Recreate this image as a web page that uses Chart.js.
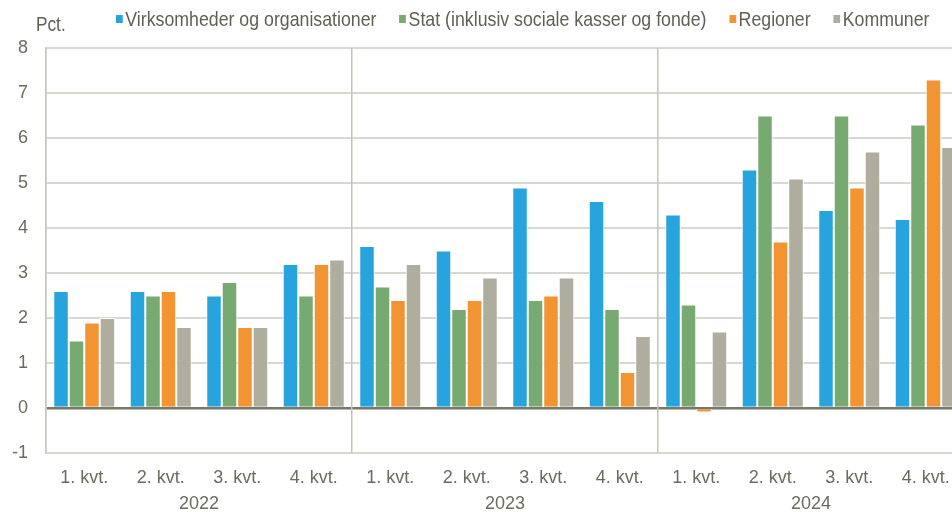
<!DOCTYPE html>
<html>
<head>
<meta charset="utf-8">
<script src="https://cdn.jsdelivr.net/npm/chart.js@4/dist/chart.umd.min.js"></script>
<style>
  body { margin: 0; background: #fff; overflow: hidden; }
  #wrap { position: relative; width: 952px; height: 512px; overflow: hidden; }
  #chart { position: absolute; left: 0; top: 0; }
  .txt { font-family: "Liberation Sans", Arial, sans-serif; font-size: 21px; color: #5f5f52; white-space: nowrap; transform: scaleX(0.845); transform-origin: left top; }
  #unit { position: absolute; left: 36px; top: 12px; transform: scaleX(0.82); }
  #legend { position: absolute; left: 116px; top: 7px; display: flex; align-items: center; }
  #legend .item { display: flex; align-items: center; margin-right: 27px; }
  #legend .box { width: 8px; height: 8px; margin-right: 3px; }
</style>
</head>
<body>
<div id="wrap">
  <canvas id="chart" width="968" height="512"></canvas>
  <div id="unit" class="txt">Pct.</div>
  <div id="legend" class="txt"></div>
</div>
<script>
const quarters = ["1. kvt.", "2. kvt.", "3. kvt.", "4. kvt.",
                  "1. kvt.", "2. kvt.", "3. kvt.", "4. kvt.",
                  "1. kvt.", "2. kvt.", "3. kvt.", "4. kvt."];
const years = ["2022", "2023", "2024"];

const virksomheder = [2.6, 2.6, 2.5, 3.2, 3.6, 3.5, 4.9, 4.6, 4.3, 5.3, 4.4, 4.2];
const stat         = [1.5, 2.5, 2.8, 2.5, 2.7, 2.2, 2.4, 2.2, 2.3, 6.5, 6.5, 6.3];
const regioner     = [1.9, 2.6, 1.8, 3.2, 2.4, 2.4, 2.5, 0.8, -0.1, 3.7, 4.9, 7.3];
const kommuner     = [2.0, 1.8, 1.8, 3.3, 3.2, 2.9, 2.9, 1.6, 1.7, 5.1, 5.7, 5.8];

const font = { family: '"Liberation Sans", Arial, sans-serif', size: 18 };
const textColor = "#6b6b5e";

function ds(label, data, color) {
  return {
    label: label,
    data: data,
    backgroundColor: color,
    borderColor: "#ffffff",
    borderWidth: 1,
    categoryPercentage: 0.81,
    barPercentage: 1.0
  };
}

const chart = new Chart(document.getElementById("chart"), {
  type: "bar",
  data: {
    labels: quarters,
    datasets: [
      ds("Virksomheder og organisationer", virksomheder, "#27a3dd"),
      ds("Stat (inklusiv sociale kasser og fonde)", stat, "#77aa70"),
      ds("Regioner", regioner, "#f29432"),
      ds("Kommuner", kommuner, "#afad9d")
    ]
  },
  options: {
    responsive: false,
    animation: false,
    layout: { padding: { top: 48, right: 4, left: 0, bottom: 0 } },
    plugins: { legend: { display: false }, tooltip: { enabled: false } },
    scales: {
      y: {
        min: -1,
        max: 8,
        ticks: { stepSize: 1, color: textColor, font: font, padding: 18 },
        grid: {
          drawTicks: false,
          color: (c) => (c.tick && c.tick.value === 0 ? "#77776a" : "#d8d8d0"),
          lineWidth: (c) => (c.tick && c.tick.value === 0 ? 2.5 : 2)
        },
        border: { display: true, color: "#c8c8c0", width: 1.5 },
        afterFit: (s) => { s.width = 46; }
      },
      x: {
        ticks: { color: textColor, font: font, padding: 14, maxRotation: 0, autoSkip: false },
        grid: { display: false, drawTicks: false },
        border: { display: false },
        afterFit: (s) => { s.height = 37; }
      },
      x2: {
        type: "category",
        labels: years,
        position: "bottom",
        offset: true,
        ticks: { color: textColor, font: font, padding: 3, maxRotation: 0 },
        grid: { offset: true, drawTicks: false, color: "#c4c4ba", lineWidth: 1.5 },
        border: { display: false },
        afterFit: (s) => { s.height = 22; }
      }
    }
  }
});

// legend
const legend = document.getElementById("legend");
chart.data.datasets.forEach((d) => {
  const item = document.createElement("div");
  item.className = "item";
  item.innerHTML = `<span class="box" style="background:${d.backgroundColor}"></span><span>${d.label}</span>`;
  legend.appendChild(item);
});
</script>
</body>
</html>
